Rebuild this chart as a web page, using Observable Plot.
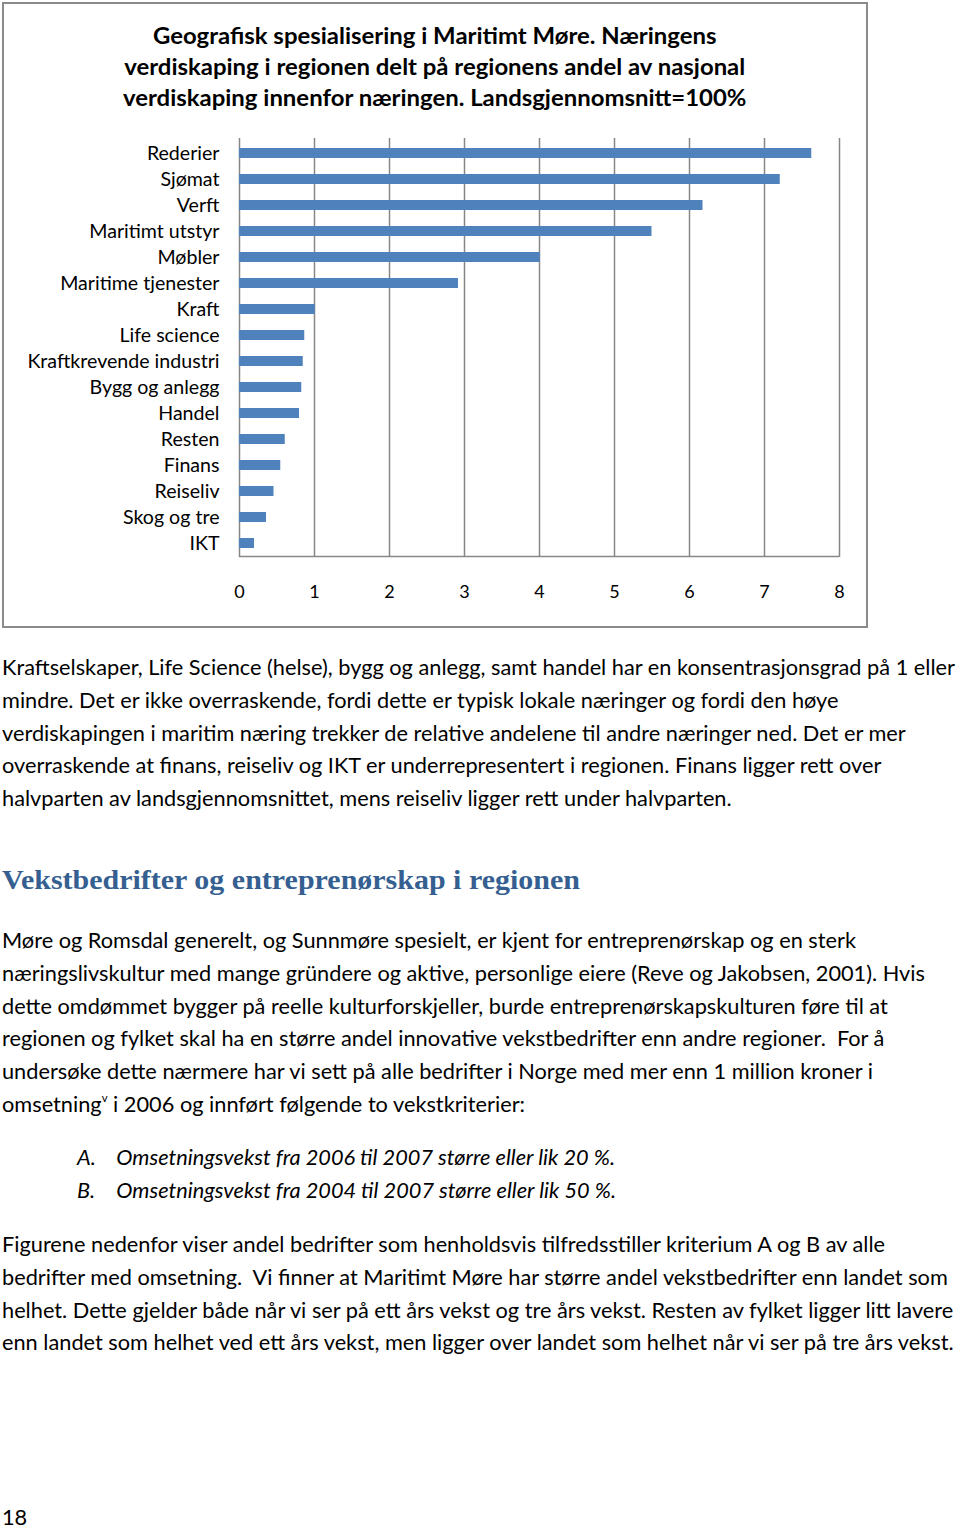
<!DOCTYPE html>
<html><head><meta charset="utf-8">
<script src="https://cdn.jsdelivr.net/npm/d3@7"></script>
<script src="https://cdn.jsdelivr.net/npm/@observablehq/plot@0.6"></script>
<style>
html,body{margin:0;padding:0;background:#fff}
body{width:960px;height:1526px;position:relative;overflow:hidden;font-family:Lato,"Open Sans",sans-serif;color:#000}
.abs{position:absolute}
#box{left:2px;top:2px;width:862px;height:622px;border:2px solid #8b8b8b;box-sizing:content-box}
#title{left:2px;top:20px;width:866px;text-align:center;font-weight:bold;font-size:23px;line-height:31px;white-space:nowrap}
#title .in{display:inline-block;transform-origin:50% 50%}
#chart{left:0;top:120px}
.txt{font-size:21px;line-height:32.75px;white-space:nowrap;transform-origin:0 0;left:2px}
.txt div{white-space:nowrap}
#head{left:2px;top:862px;font-family:"Liberation Serif",serif;font-weight:bold;font-size:26.5px;line-height:36px;color:#365F91;white-space:nowrap;transform-origin:0 0}
.li{display:flex;font-style:italic}
.li span.k{display:inline-block;width:38px}
sup{font-size:11px;vertical-align:10px;line-height:0}
</style>
</head>
<body>
<div id="box" class="abs"></div>
<div id="title" class="abs"><div class="in" id="titleIn">
<div>Geografisk spesialisering i Maritimt Møre. Næringens</div>
<div id="titleRef">verdiskaping i regionen delt på regionens andel av nasjonal</div>
<div>verdiskaping innenfor næringen. Landsgjennomsnitt=100%</div>
</div></div>
<div id="chart" class="abs"></div>

<div id="p1" class="abs txt" style="top:651px">
<div id="bodyRef">Kraftselskaper, Life Science (helse), bygg og anlegg, samt handel har en konsentrasjonsgrad på 1 eller</div>
<div>mindre. Det er ikke overraskende, fordi dette er typisk lokale næringer og fordi den høye</div>
<div>verdiskapingen i maritim næring trekker de relative andelene til andre næringer ned. Det er mer</div>
<div>overraskende at finans, reiseliv og IKT er underrepresentert i regionen. Finans ligger rett over</div>
<div>halvparten av landsgjennomsnittet, mens reiseliv ligger rett under halvparten.</div>
</div>

<div id="head" class="abs">Vekstbedrifter og entreprenørskap i regionen</div>

<div id="p2" class="abs txt" style="top:924px">
<div>Møre og Romsdal generelt, og Sunnmøre spesielt, er kjent for entreprenørskap og en sterk</div>
<div>næringslivskultur med mange gründere og aktive, personlige eiere (Reve og Jakobsen, 2001). Hvis</div>
<div>dette omdømmet bygger på reelle kulturforskjeller, burde entreprenørskapskulturen føre til at</div>
<div>regionen og fylket skal ha en større andel innovative vekstbedrifter enn andre regioner.&nbsp; For å</div>
<div>undersøke dette nærmere har vi sett på alle bedrifter i Norge med mer enn 1 million kroner i</div>
<div>omsetning<sup>v</sup> i 2006 og innført følgende to vekstkriterier:</div>
</div>

<div id="p3" class="abs txt" style="top:1141px;left:77px">
<div class="li"><span class="k">A.</span><span>Omsetningsvekst fra 2006 til 2007 større eller lik 20 %.</span></div>
<div class="li"><span class="k">B.</span><span>Omsetningsvekst fra 2004 til 2007 større eller lik 50 %.</span></div>
</div>

<div id="p4" class="abs txt" style="top:1228px">
<div>Figurene nedenfor viser andel bedrifter som henholdsvis tilfredsstiller kriterium A og B av alle</div>
<div>bedrifter med omsetning.&nbsp; Vi finner at Maritimt Møre har større andel vekstbedrifter enn landet som</div>
<div>helhet. Dette gjelder både når vi ser på ett års vekst og tre års vekst. Resten av fylket ligger litt lavere</div>
<div>enn landet som helhet ved ett års vekst, men ligger over landet som helhet når vi ser på tre års vekst.</div>
</div>

<div id="pg" class="abs txt" style="top:1501px">18</div>

<script>
// Chart data
const categories = ["Rederier","Sjømat","Verft","Maritimt utstyr","Møbler","Maritime tjenester","Kraft","Life science","Kraftkrevende industri","Bygg og anlegg","Handel","Resten","Finans","Reiseliv","Skog og tre","IKT"];
const values = [7.63, 7.21, 6.18, 5.50, 4.01, 2.92, 1.01, 0.87, 0.85, 0.83, 0.80, 0.61, 0.55, 0.46, 0.36, 0.20];
const xTicks = [0,1,2,3,4,5,6,7,8];

const data = categories.map((c,i)=>({category:c, value:values[i]}));

const plot = Plot.plot({
  width: 880,
  height: 487,
  marginLeft: 239,
  marginRight: 41,
  marginTop: 18,
  marginBottom: 50,
  style: {fontFamily: "Lato, sans-serif", fontSize: "18px", color: "#000", background: "transparent"},
  x: {domain: [0, 8], label: null},
  y: {domain: categories, paddingInner: 0.62, paddingOuter: 0.31, label: null},
  marks: [
    Plot.gridX(xTicks, {stroke: "#878787", strokeOpacity: 1, strokeWidth: 1.5}),
    Plot.ruleY(["IKT"], {dy: 13.1, stroke: "#878787", strokeWidth: 1.5}),
    Plot.barX(data, {x: "value", y: "category", fill: "#4F81BD"}),
    Plot.axisX({ticks: xTicks, tickSize: 0, tickPadding: 28, tickFormat: d => String(d), fontSize: 18, label: null}),
    Plot.axisY({tickSize: 0, tickPadding: 20, fontSize: 19.6, label: null})
  ]
});
document.getElementById("chart").appendChild(plot);

// Fit text widths to the reference (Calibri-like proportions)
function fitScale(refEl, target){ return target / refEl.getBoundingClientRect().width; }
const tIn = document.getElementById("titleIn");
const tRef = document.getElementById("titleRef");
tRef.style.display = "inline-block";
const ts = fitScale(tRef, 621);
tRef.style.display = "block";
tIn.style.transform = `scaleX(${ts})`;

const bRef = document.getElementById("bodyRef");
bRef.style.display = "inline-block";
const bs = fitScale(bRef, 953);
bRef.style.display = "block";
for (const id of ["p1","p2","p3","p4","pg"]) document.getElementById(id).style.transform = `scaleX(${bs})`;

const head = document.getElementById("head");
head.style.display = "inline-block";
head.style.transform = `scaleX(${578 / head.getBoundingClientRect().width})`;
</script>
</body></html>
